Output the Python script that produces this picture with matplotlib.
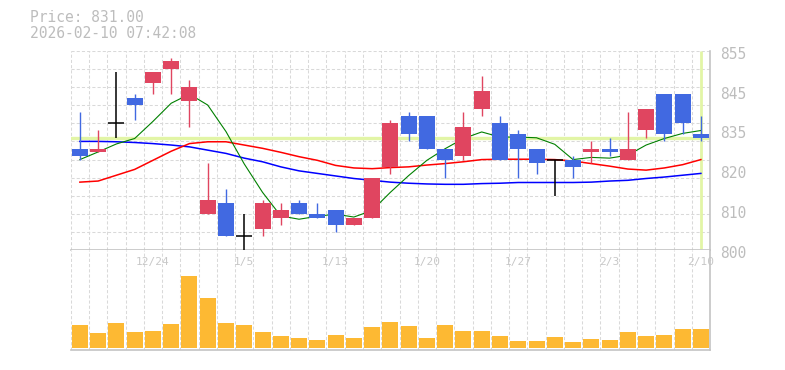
import matplotlib
matplotlib.use('Agg')
from matplotlib import pyplot as plt
from matplotlib.transforms import ScaledTranslation, blended_transform_factory

# trading days shown on the chart
dates = ['12/18', '12/19', '12/22', '12/23', '12/24', '12/25', '12/26', '12/29', '12/30',
         '1/5', '1/6', '1/7', '1/8', '1/9', '1/13', '1/14', '1/15', '1/16', '1/19',
         '1/20', '1/21', '1/22', '1/23', '1/26', '1/27', '1/28', '1/29', '1/30',
         '2/2', '2/3', '2/4', '2/5', '2/6', '2/9', '2/10']

opens = [828, 827, 835, 842, 846, 850, 841, 810, 813, 804, 806, 809, 813, 810, 811, 807, 809, 823,
         837, 837, 828, 826, 839, 835, 832, 828, 825, 825, 827, 828, 825, 833, 843, 843, 832]
highs = [838, 833, 849, 843, 849, 853, 847, 824, 817, 810, 814, 813, 814, 813, 811, 809, 820, 836,
         838, 837, 828, 838, 848, 837, 833, 828, 825, 826, 830, 831, 838, 839, 843, 843, 837]
lows = [825, 827, 831, 836, 843, 843, 834, 810, 804, 800, 804, 807, 810, 809, 805, 807, 809, 821,
        830, 828, 820, 825, 837, 825, 820, 821, 815, 820, 824, 826, 825, 831, 830, 832, 830]
closes = [826, 828, 835, 840, 849, 852, 845, 814, 804, 804, 813, 811, 810, 809, 807, 809, 820, 835,
          832, 828, 825, 834, 844, 825, 828, 824, 825, 823, 828, 827, 828, 839, 832, 835, 831]

# moving averages
ma_short = [825.0, 827.1, 829.3, 830.8, 835.5, 840.5, 843.0, 840.0, 832.7, 823.8, 816.0, 809.5,
            808.6, 809.4, 810.0, 809.2, 811.0, 816.0, 820.6, 824.8, 828.0, 830.8, 832.6, 831.2,
            831.2, 831.0, 829.2, 825.0, 825.6, 825.4, 826.2, 829.0, 830.8, 832.2, 833.0]
ma_mid = [818.8, 819.1, 820.7, 822.3, 824.8, 827.3, 829.4, 829.9, 829.9, 829.0, 828.1, 827.0,
          825.8, 824.8, 823.4, 822.7, 822.5, 822.8, 823.0, 823.5, 823.9, 824.4, 825.0, 825.1,
          825.1, 825.1, 825.0, 824.6, 823.9, 823.2, 822.4, 822.1, 822.7, 823.6, 825.0]
ma_long = [830.0, 830.0, 829.9, 829.7, 829.4, 829.0, 828.5, 827.6, 826.7, 825.4, 824.4, 823.0,
           821.9, 821.2, 820.5, 819.8, 819.3, 818.8, 818.5, 818.3, 818.2, 818.2, 818.4, 818.5,
           818.7, 818.7, 818.7, 818.7, 818.8, 819.1, 819.3, 819.8, 820.2, 820.7, 821.2]

volumes = [233, 153, 253, 163, 173, 243, 727, 513, 253, 233, 163, 123, 103, 83, 133, 103, 213, 263,
           223, 103, 233, 173, 173, 123, 73, 73, 113, 63, 93, 83, 163, 123, 133, 193, 193]

price_ticks = [800, 811, 822, 833, 844, 855]
last_price = 831.00
timestamp = '2026-02-10 07:42:08'

UP = '#e04560'
DOWN = '#4169e1'
GRID = '#d9d9d9'
FRAME = '#c4c4c4'
TEXT = '#bdbdbd'
MARK = '#e2f5a6'

plt.rcParams['font.family'] = ['DejaVu Sans Mono', 'DejaVu Sans']

fig = plt.figure(figsize=(7.85, 3.7), dpi=100)
ax = fig.add_axes([0.0901, 0.3230, 0.8144, 0.5405])
ax_vol = fig.add_axes([0.0901, 0.0554, 0.8144, 0.2676], sharex=ax)

n = len(closes)
x = list(range(n))
body_w = 0.876

for a in (ax, ax_vol):
    a.set_xlim(-0.5, n - 0.5)
    for s in ('top', 'left'):
        a.spines[s].set_visible(False)
    for s in ('right', 'bottom'):
        a.spines[s].set_color(FRAME)
        a.spines[s].set_linewidth(1.2)
    for i in range(n):
        a.axvline(i - 0.5, color=GRID, lw=0.75, ls=(0, (3, 2)), zorder=0)
    a.tick_params(axis='x', length=0, labelbottom=False)

# price panel
ax.set_ylim(800, 855)
for v in range(805, 856, 5):
    ax.axhline(v, color=GRID, lw=0.75, ls=(0, (3, 2)), zorder=0)

ax.axhline(last_price, color=MARK, lw=2.4, zorder=1)
ax.vlines(n - 1, 800.5, 855, color=MARK, lw=2.0, zorder=1)

ax.plot(x, ma_long, color='#0000ff', lw=1.1, zorder=2)
ax.plot(x, ma_mid, color='#ff0000', lw=1.1, zorder=2)
ax.plot(x, ma_short, color='#008000', lw=0.8, zorder=2)

for i in range(n):
    o, h, l, c = opens[i], highs[i], lows[i], closes[i]
    if o == c:
        ax.vlines(i, l, h, color='black', lw=1.1, zorder=3)
        ax.hlines(c, i - body_w / 2, i + body_w / 2, color='black', lw=1.1, zorder=3)
        continue
    col = UP if c > o else DOWN
    ax.vlines(i, l, h, color=col, lw=1.0, zorder=3)
    ax.bar(i, abs(c - o), body_w, bottom=min(o, c), color=col, zorder=4)

ax.yaxis.tick_right()
ax.set_yticks(price_ticks, [str(int(round(v / 5.0) * 5)) for v in price_ticks])
ax.tick_params(axis='y', length=0, pad=7.2, labelcolor=TEXT, labelsize=10.5)
shift = ScaledTranslation(0, -2 / 100, fig.dpi_scale_trans)
for lbl in ax.get_yticklabels():
    lbl.set_transform(lbl.get_transform() + shift)

# volume panel
ax_vol.bar(x, volumes, body_w, color='#fdb933', zorder=2)
ax_vol.set_ylim(-12, 990)
ax_vol.set_yticks([])

trans = blended_transform_factory(ax_vol.transData, ax_vol.transAxes)
for i in range(4, n, 5):
    ax_vol.text(i, 0.884, dates[i], transform=trans, ha='center', va='center',
                fontsize=8, color='#c8c8c8', zorder=1)

fig.text(30 / 785, 1 - 18 / 370, f'Price: {last_price:.2f}', color=TEXT,
         fontsize=10.5, va='center', ha='left')
fig.text(30 / 785, 1 - 33 / 370, timestamp, color=TEXT,
         fontsize=10.5, va='center', ha='left')

plt.savefig('out.png', dpi=100)
plt.close(fig)
